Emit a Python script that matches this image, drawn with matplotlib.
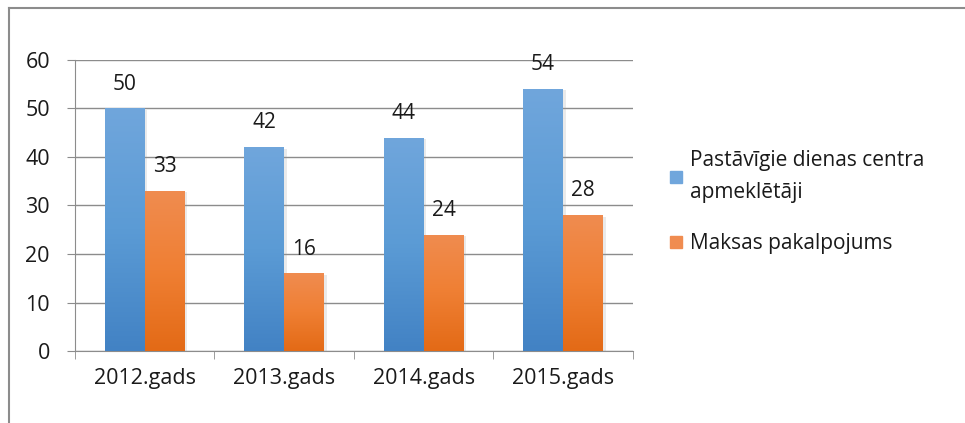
import numpy as np
import matplotlib.pyplot as plt
from matplotlib.colors import LinearSegmentedColormap
from matplotlib.lines import Line2D
import matplotlib.patheffects as pe

plt.rcParams['font.family'] = ['Open Sans', 'DejaVu Sans']

years = ['2012.gads', '2013.gads', '2014.gads', '2015.gads']
regular = [50, 42, 44, 54]
paid = [33, 16, 24, 28]
series_names = ['Pastāvīgie dienas centra\napmeklētāji', 'Maksas pakalpojums']

blue_grad = ['#4282C4', '#5B9BD5', '#70A6DC']
orange_grad = ['#E36A16', '#EF7F33', '#F08C50']

fig = plt.figure(figsize=(9.65, 4.23), dpi=100)
ax = fig.add_axes([0.0777, 0.1702, 0.578, 0.688])

# outer frame (top and left only visible)
fig.add_artist(Line2D([9/965, 1.0], [1 - 8/423, 1 - 8/423], color='#8C8C8C', lw=1.5))
fig.add_artist(Line2D([9/965, 9/965], [0, 1 - 8/423], color='#8C8C8C', lw=1.5))

x = np.arange(len(years))
w = 0.286
bars1 = ax.bar(x - w/2, regular, w, color=blue_grad[1], zorder=2)
bars2 = ax.bar(x + w/2, paid, w, color=orange_grad[1], zorder=2)

def gradient_fill(bars, cols):
    cmap = LinearSegmentedColormap.from_list('g', cols)
    grad = np.linspace(0, 1, 256).reshape(-1, 1)
    for b in bars:
        b.set_path_effects([pe.SimplePatchShadow(offset=(2, -1), shadow_rgbFace='#999999', alpha=0.2), pe.Normal()])
        x0, y0 = b.get_x(), b.get_y()
        im = ax.imshow(grad, cmap=cmap, aspect='auto', origin='lower',
                       extent=[x0, x0 + b.get_width(), y0, y0 + b.get_height()], zorder=3)
        im.set_clip_path(b)

gradient_fill(bars1, blue_grad)
gradient_fill(bars2, orange_grad)

for bars, vals in [(bars1, regular), (bars2, paid)]:
    for b, v in zip(bars, vals):
        ax.annotate(str(v), (b.get_x() + b.get_width()/2, v), xytext=(0, 10),
                    textcoords='offset points', ha='center', va='bottom',
                    fontsize=15, color='#1A1A1A')

ax.set_xlim(-0.5, len(years) - 0.5)
ax.set_ylim(0, 60)
ax.set_yticks(range(0, 61, 10))
ax.set_xticks(x)
ax.set_xticklabels(years)
ax.set_xticks(np.arange(-0.5, len(years)), minor=True)
ax.tick_params(axis='x', which='major', length=0, pad=12, labelsize=15.5, labelcolor='#1A1A1A')
ax.tick_params(axis='x', which='minor', length=6, color='#8C8C8C')
ax.tick_params(axis='y', length=6, color='#8C8C8C', labelsize=15.5, labelcolor='#1A1A1A', pad=12)
ax.grid(axis='y', color='#8C8C8C', lw=1, zorder=0)
ax.set_axisbelow(True)
for s in ['top', 'right']:
    ax.spines[s].set_visible(False)
for s in ['left', 'bottom']:
    ax.spines[s].set_color('#8C8C8C')

handles = [Line2D([], [], ls='', marker='s', markersize=9, color=blue_grad[2]),
           Line2D([], [], ls='', marker='s', markersize=9, color=orange_grad[2])]
leg = fig.legend(handles, series_names, loc='upper left', bbox_to_anchor=(0.685, 0.665),
                 frameon=False, fontsize=15, handlelength=0.6, handletextpad=0.4,
                 labelspacing=1.45, borderaxespad=0)
for t in leg.get_texts():
    t.set_linespacing(1.7)
    t.set_color('#1A1A1A')

fig.savefig('out.png', dpi=100)
